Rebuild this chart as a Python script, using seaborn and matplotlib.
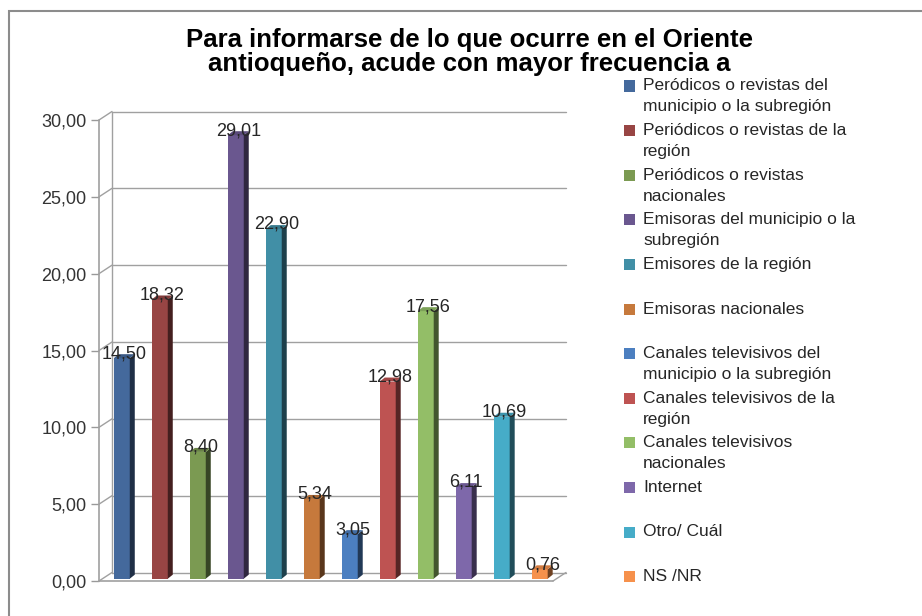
import matplotlib
matplotlib.use("Agg")
import matplotlib.pyplot as plt
import matplotlib.colors as mcolors
from matplotlib.patches import Polygon, Rectangle
from matplotlib.lines import Line2D
import seaborn as sns
import pandas as pd

categories = [
    "Peródicos o revistas del\nmunicipio o la subregión",
    "Periódicos o revistas de la\nregión",
    "Periódicos o revistas\nnacionales",
    "Emisoras del municipio o la\nsubregión",
    "Emisores de la región",
    "Emisoras nacionales",
    "Canales televisivos del\nmunicipio o la subregión",
    "Canales televisivos de la\nregión",
    "Canales televisivos\nnacionales",
    "Internet",
    "Otro/ Cuál",
    "NS /NR",
]
values = [14.50, 18.32, 8.40, 29.01, 22.90, 5.34, 3.05, 12.98, 17.56, 6.11, 10.69, 0.76]
colors = ["#44699C", "#984544", "#7B9A52", "#6A578F", "#418FA6", "#C6793C",
          "#4C7FC0", "#BE5352", "#93BE67", "#7E68AA", "#46ACC8", "#F6914C"]
yticks = [0, 5, 10, 15, 20, 25, 30]
title = "Para informarse de lo que ocurre en el Oriente\nantioqueño, acude con mayor frecuencia a"

W, H = 922, 616
sns.set_theme(style="white")
plt.rcParams["font.family"] = ["Liberation Sans", "DejaVu Sans"]

fig = plt.figure(figsize=(W / 100, H / 100), dpi=100)

# axes placed in pixel terms: front y axis at x=99, value 0 at y=581, 30 at y=120
ax_l, ax_r, ax_b, ax_t = 99, 553, 581, 120
ax = fig.add_axes([ax_l / W, 1 - ax_b / H, (ax_r - ax_l) / W, (ax_b - ax_t) / H])

df = pd.DataFrame({"cat": categories, "val": values})
sns.barplot(data=df, x="cat", y="val", hue="cat", palette=colors, order=categories,
            hue_order=categories, width=0.42, saturation=1, legend=False, ax=ax,
            zorder=3)

ax.set_xlim(-0.6, 11.35)
ax.set_ylim(0, 30)
ax.set_xlabel("")
ax.set_ylabel("")
ax.set_xticks([])
ax.set_yticks(yticks)
ax.set_yticklabels([f"{v:.2f}".replace(".", ",") for v in yticks], fontsize=13, color="#333333")
ax.tick_params(axis="y", length=6, width=1, color="#999999", pad=3, left=True)
for s in ax.spines.values():
    s.set_visible(False)
ax.patch.set_alpha(0)

# pixel-to-data conversion for the depth offsets
px_x = (ax.get_xlim()[1] - ax.get_xlim()[0]) / (ax_r - ax_l)
px_y = 30 / (ax_b - ax_t)
dep_x, dep_y = 13 * px_x, 8.5 * px_y
grid_c = "#A0A0A0"

# back wall gridlines, side wall edges and floor
x0, x1 = ax.get_xlim()
for v in yticks:
    ax.add_line(Line2D([x0 + dep_x, x1 + dep_x], [v + dep_y, v + dep_y], color=grid_c,
                       lw=1, zorder=1, clip_on=False))
    ax.add_line(Line2D([x0, x0 + dep_x], [v, v + dep_y], color=grid_c, lw=1,
                       zorder=1, clip_on=False))
ax.add_line(Line2D([x0, x0], [0, 30], color=grid_c, lw=1.2, zorder=2, clip_on=False))
ax.add_line(Line2D([x0 + dep_x, x0 + dep_x], [dep_y, 30 + dep_y], color=grid_c, lw=1,
                   zorder=1, clip_on=False))
ax.add_line(Line2D([x0, x1], [0, 0], color=grid_c, lw=1.2, zorder=2, clip_on=False))
ax.add_line(Line2D([x1, x1 + dep_x], [0, dep_y], color=grid_c, lw=1, zorder=2, clip_on=False))

# column depth: right side and top faces
sx, sy = 5 * px_x, 4 * px_y
for patch, v in zip(ax.patches, values):
    xl = patch.get_x()
    w = patch.get_width()
    xr = xl + w
    h = patch.get_height()
    face = mcolors.to_rgb(patch.get_facecolor())
    dark = tuple(c * 0.45 for c in face)
    mid = tuple(min(1, c * 0.85) for c in face)
    base = 0.15
    patch.set_y(base)
    patch.set_height(h - base)
    patch.set_edgecolor("none")
    ax.add_patch(Polygon([(xr, base), (xr + sx, base + sy), (xr + sx, h + sy), (xr, h)],
                         closed=True, facecolor=dark, edgecolor="none", zorder=3))
    ax.add_patch(Polygon([(xl, h), (xl + sx, h + sy), (xr + sx, h + sy), (xr, h)],
                         closed=True, facecolor=mid, edgecolor="none", zorder=3))
    ax.text(xl + w / 2 + 0.07, h + 0.3, f"{v:.2f}".replace(".", ","), ha="center",
            va="center", fontsize=13, color="#262626", zorder=5)

# title
fig.text(469 / W, 1 - 52 / H, title, ha="center", va="center", fontsize=18.5,
         fontweight="bold", color="#000000", linespacing=0.98)

# legend with first line of each entry on a fixed slot
leg_y0, leg_step, line_h = 86, 44.6, 21
for i, (lab, col) in enumerate(zip(categories, colors)):
    yc = leg_y0 + i * leg_step
    fig.add_artist(Rectangle((624 / W, 1 - (yc + 5.5) / H), 11 / W, 11 / H,
                             transform=fig.transFigure, facecolor=col, edgecolor="none"))
    for k, line in enumerate(lab.split("\n")):
        fig.text(643 / W, 1 - (yc + k * line_h) / H, line, ha="left", va="center",
                 fontsize=12.5, color="#262626")

# outer chart border
fig.add_artist(Rectangle((9 / W, -0.05), 1.0, 1 - 11 / H + 0.05, transform=fig.transFigure,
                         facecolor="none", edgecolor="#8C8C8C", lw=1.5))

fig.savefig("out.png", dpi=100)
